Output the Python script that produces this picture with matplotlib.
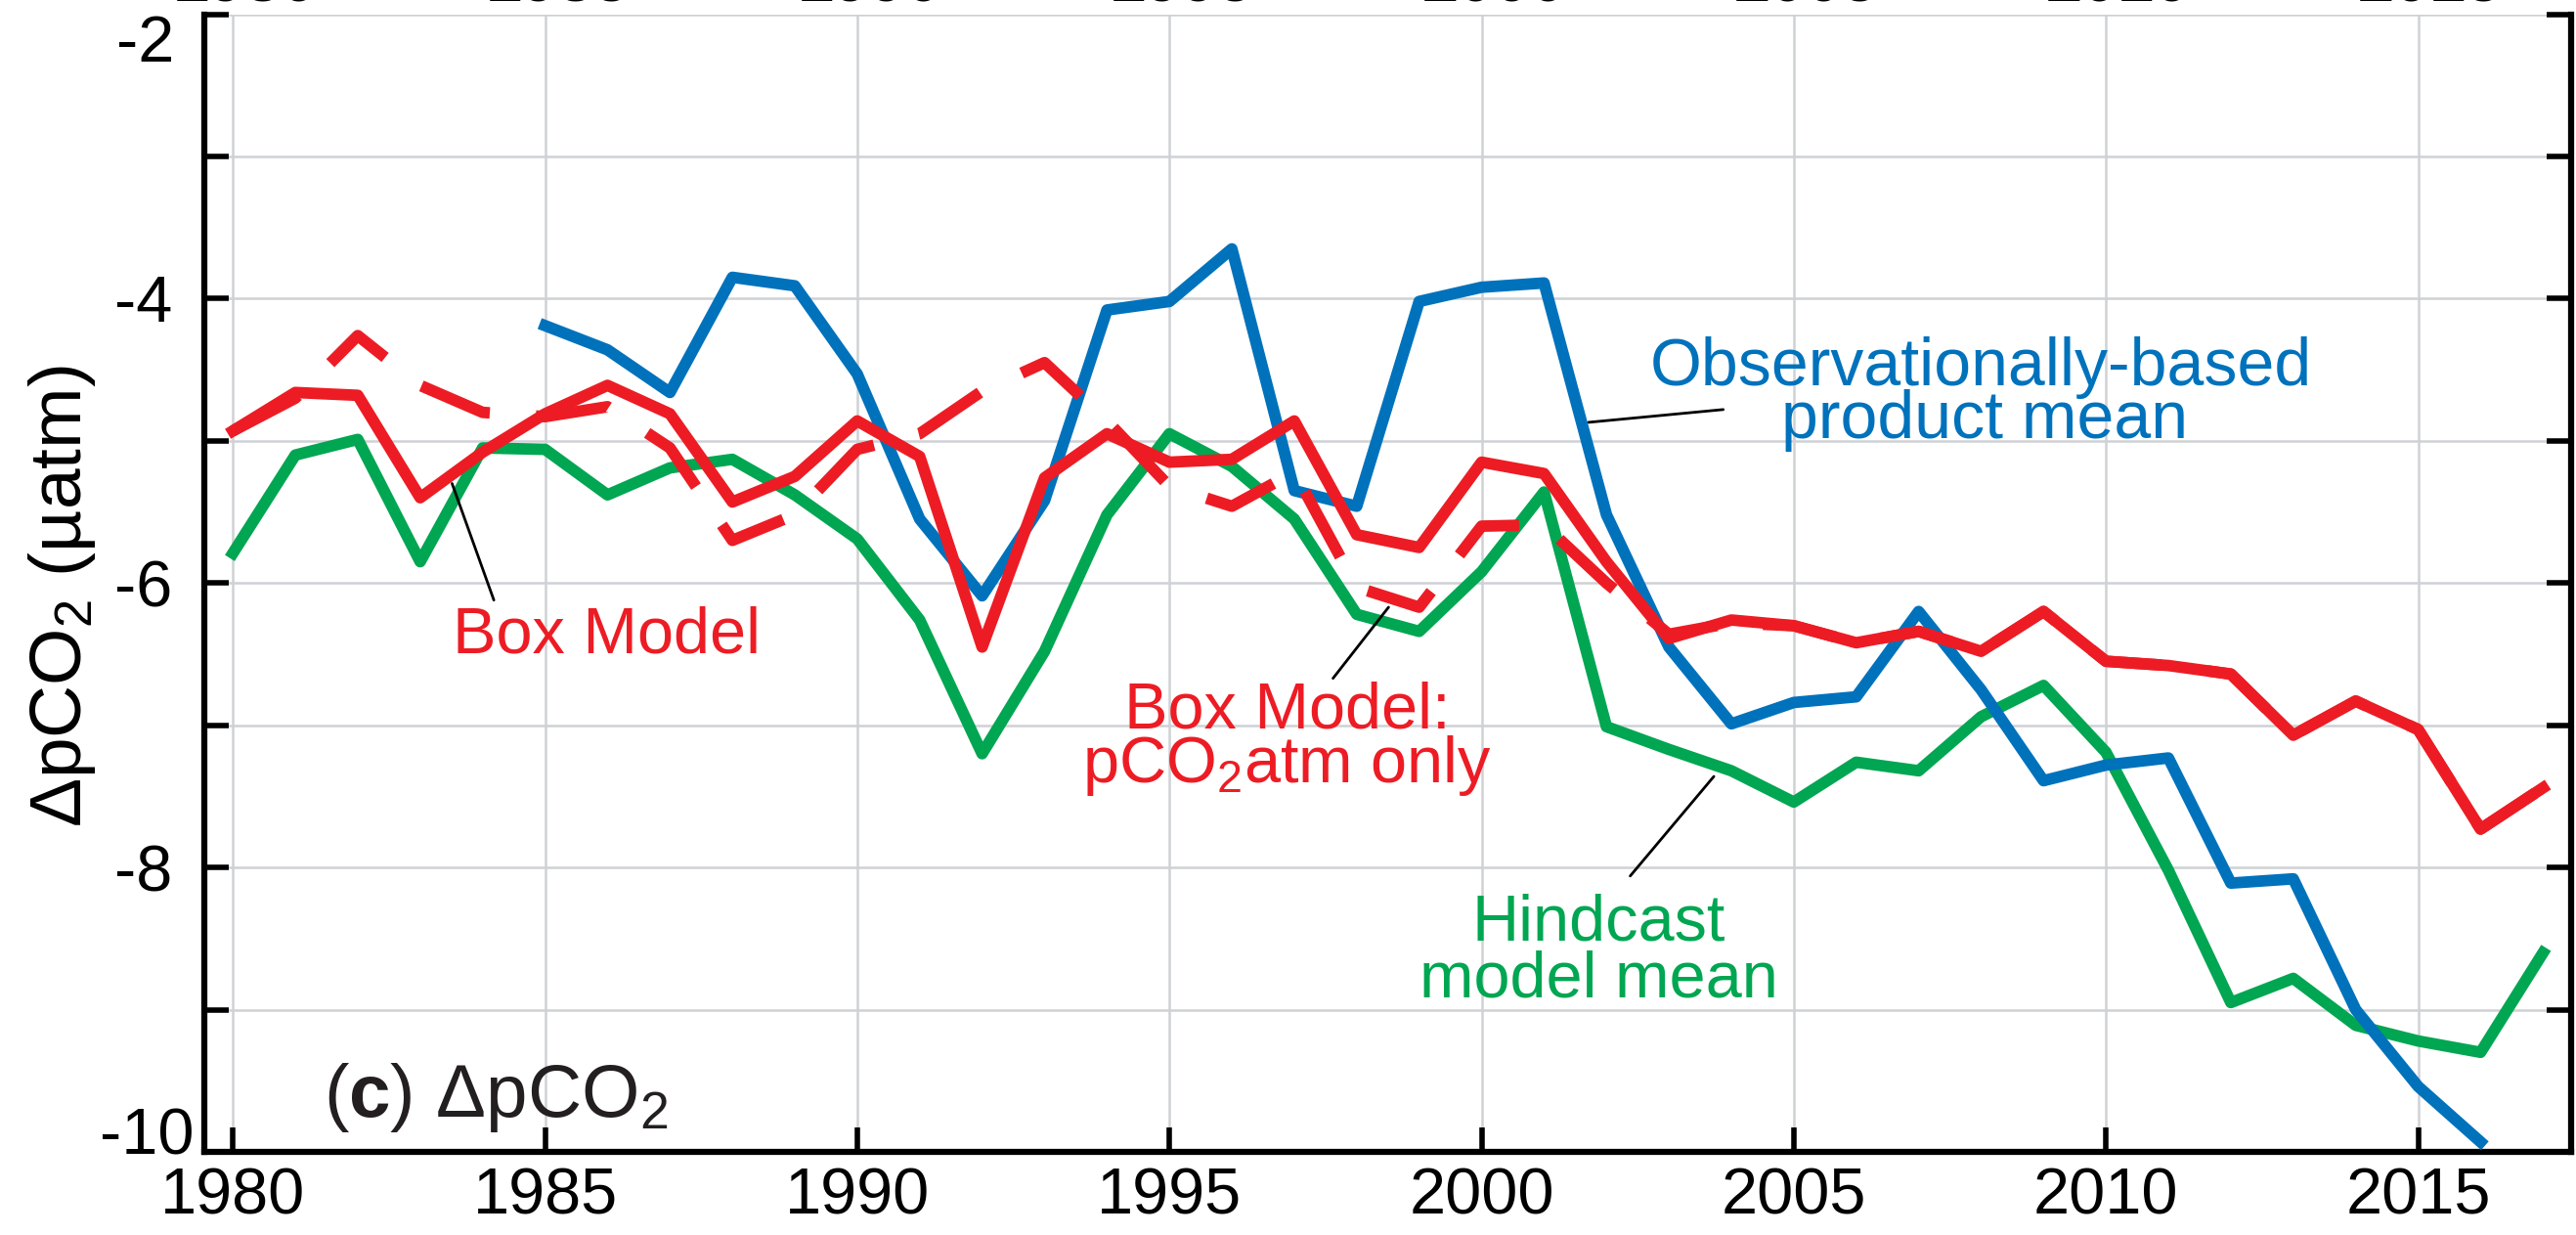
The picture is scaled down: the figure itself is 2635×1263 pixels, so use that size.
import numpy as np
import matplotlib.pyplot as plt
from matplotlib.ticker import MultipleLocator, FuncFormatter
import matplotlib.transforms as mtransforms

plt.rcParams['font.family'] = ['Liberation Sans', 'DejaVu Sans']
plt.rcParams['mathtext.fontset'] = 'custom'
plt.rcParams['mathtext.rm'] = 'Liberation Sans'
plt.rcParams['mathtext.it'] = 'Liberation Sans:italic'
plt.rcParams['mathtext.bf'] = 'Liberation Sans:bold'
plt.rcParams['axes.unicode_minus'] = False

# annual means, uatm
years = np.arange(1980, 2018)
box_model = [-4.93, -4.66, -4.68, -5.40, -5.08, -4.81, -4.61, -4.81, -5.43, -5.25,
             -4.86, -5.11, -6.45, -5.26, -4.95, -5.15, -5.13, -4.86, -5.66, -5.75,
             -5.15, -5.23, -5.85, -6.39, -6.26, -6.30, -6.42, -6.34, -6.48, -6.20,
             -6.55, -6.58, -6.64, -7.07, -6.83, -7.03, -7.73, -7.44]
box_atm_only = [-4.93, -4.70, -4.26, -4.61, -4.80, -4.83, -4.76, -5.05, -5.70, -5.52,
                -5.06, -4.95, -4.65, -4.45, -4.86, -5.32, -5.46, -5.22, -6.03, -6.17,
                -5.60, -5.59, -6.00, -6.36, -6.28, -6.30, -6.42, -6.34, -6.48, -6.20,
                -6.55, -6.58, -6.64, -7.07, -6.83, -7.03, -7.73, -7.44]
hindcast = [-5.79, -5.10, -4.99, -5.85, -5.05, -5.06, -5.38, -5.19, -5.13, -5.38,
            -5.69, -6.26, -7.20, -6.48, -5.52, -4.95, -5.18, -5.55, -6.22, -6.34,
            -5.92, -5.36, -7.01, -7.17, -7.32, -7.54, -7.26, -7.32, -6.94, -6.72,
            -7.19, -8.02, -8.95, -8.78, -9.11, -9.22, -9.30, -8.60]
obs_years = np.arange(1985, 2017)
obs_product = [-4.19, -4.36, -4.66, -3.85, -3.91, -4.53, -5.55, -6.09, -5.42, -4.08,
               -4.02, -3.65, -5.35, -5.46, -4.02, -3.92, -3.89, -5.52, -6.45, -6.99,
               -6.84, -6.80, -6.20, -6.75, -7.39, -7.28, -7.23, -8.11, -8.08, -9.00,
               -9.54, -9.93]

x_ticks = [1980, 1985, 1990, 1995, 2000, 2005, 2010, 2015]

red = '#ED1C24'
blue = '#0072BC'
green = '#00A651'
lw = 8.5

fig = plt.figure(figsize=(26.35, 12.63), dpi=100)
ax = fig.add_axes([0.0795, 0.0673, 0.9186, 0.9212])

ax.plot(years, hindcast, color=green, lw=lw, zorder=3)
ax.plot(obs_years, obs_product, color=blue, lw=lw, zorder=4)
ax.plot(years, box_model, color=red, lw=lw, zorder=5)
ax.plot(years, box_atm_only, color=red, lw=lw, dashes=(6.4, 4.0), zorder=5)

ax.set_xlim(1979.55, 2017.45)
ax.set_ylim(-10, -2)
ax.set_xticks(x_ticks)
ax.yaxis.set_major_locator(MultipleLocator(2))
ax.yaxis.set_minor_locator(MultipleLocator(1))
# end labels (-2, -10) are placed by hand below
ax.yaxis.set_major_formatter(FuncFormatter(lambda v, p: '' if v in (-2, -10) else '%d' % v))

ax.set_axisbelow(True)
ax.grid(True, axis='y', which='both', color='#cfd1d5', lw=1.8)
ax.grid(True, axis='x', which='major', color='#cfd1d5', lw=1.8)

ax.spines['top'].set_visible(False)
for s in ['left', 'right', 'bottom']:
    ax.spines[s].set_linewidth(4.5)
ax.tick_params(which='both', direction='in', length=18, width=4, right=True, top=False)
ax.tick_params(axis='y', which='both', labelsize=48, pad=24)
ax.tick_params(axis='x', labelsize=48, pad=11)

fig.text(178 / 2635, 0.9501, '-2', fontsize=48, ha='right', va='baseline')
fig.text(198 / 2635, 0.0657, '-10', fontsize=48, ha='right', va='baseline')

# y axis label
fig.text(0.0315, 0.517, r'ΔpCO$_2$ (µatm)', rotation=90, fontsize=54,
         ha='center', va='baseline', rotation_mode='anchor')

# tick labels of the panel above, cut by the top edge
trans = mtransforms.blended_transform_factory(ax.transData, fig.transFigure)
for yr in x_ticks:
    fig.text(yr + 0.2, 1 - 1.5 / 1263, str(yr), transform=trans, fontsize=48,
             fontweight='bold', ha='center', va='baseline')

# series labels and leader lines
line_kw = dict(arrowprops=dict(arrowstyle='-', color='k', lw=2, shrinkA=0, shrinkB=0))
ax.text(1985.98, -6.49, 'Box Model', color=red, fontsize=48, ha='center', va='baseline')
ax.annotate('', xy=(1983.51, -5.30), xytext=(1984.18, -6.12), **line_kw)

ax.text(1996.89, -7.02, 'Box Model:', color=red, fontsize=48, ha='center', va='baseline')
ax.text(1996.89, -7.40, r'pCO$_2$atm only', color=red, fontsize=48, ha='center', va='baseline')
ax.annotate('', xy=(1998.51, -6.17), xytext=(1997.62, -6.67), **line_kw)

ax.text(2001.88, -8.51, 'Hindcast', color=green, fontsize=48, ha='center', va='baseline')
ax.text(2001.88, -8.91, 'model mean', color=green, fontsize=48, ha='center', va='baseline')
ax.annotate('', xy=(2003.72, -7.36), xytext=(2002.38, -8.06), **line_kw)

ax.text(2008.0, -4.61, 'Observationally-based', color=blue, fontsize=49, ha='center', va='baseline')
ax.text(2008.05, -4.98, 'product mean', color=blue, fontsize=49, ha='center', va='baseline')
ax.annotate('', xy=(2001.71, -4.87), xytext=(2003.87, -4.78), **line_kw)

ax.text(1981.45, -9.75, r'($\mathbf{c}$) ΔpCO$_2$', fontsize=55, ha='left', va='baseline',
        color='#231f20')

fig.savefig('out.png', dpi=100)
